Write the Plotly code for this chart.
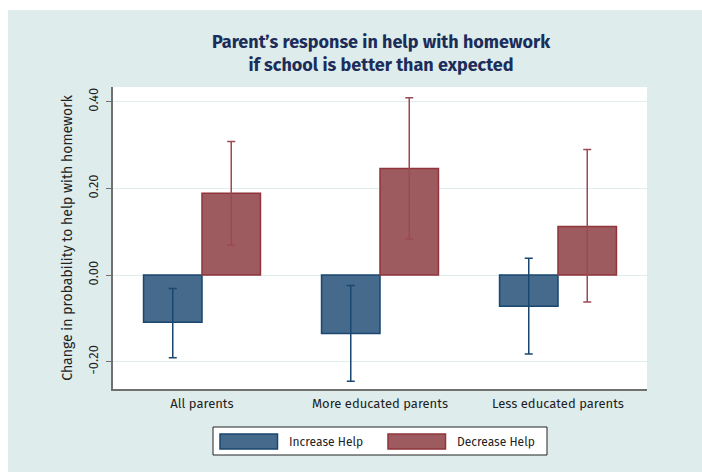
import plotly.graph_objects as go

categories = ["All parents", "More educated parents", "Less educated parents"]
increase = [-0.109, -0.135, -0.072]
increase_hi = [-0.031, -0.024, 0.039]
increase_lo = [-0.191, -0.245, -0.182]
decrease = [0.189, 0.246, 0.112]
decrease_hi = [0.308, 0.409, 0.290]
decrease_lo = [0.069, 0.083, -0.062]
series_names = ["Increase Help", "Decrease Help"]
yticks = [-0.2, 0.0, 0.2, 0.4]
yticklabels = ["-0.20", "0.00", "0.20", "0.40"]

BLUE_FILL = "#456a8b"
BLUE_LINE = "#1a476f"
RED_FILL = "#9d5b60"
RED_LINE = "#90353b"
TEAL = "#deecec"
FONT = "Fira Sans, Open Sans, sans-serif"
TITLE_FONT = "Fira Sans, Fira Sans Condensed, sans-serif"

fig = go.Figure()
fig.add_trace(go.Bar(
    x=categories, y=increase, name=series_names[0],
    marker=dict(color=BLUE_FILL, line=dict(color=BLUE_LINE, width=1.5)),
    error_y=dict(type="data", symmetric=False,
                 array=[h - v for h, v in zip(increase_hi, increase)],
                 arrayminus=[v - l for v, l in zip(increase, increase_lo)],
                 color=BLUE_LINE, thickness=1.5, width=4),
))
fig.add_trace(go.Bar(
    x=categories, y=decrease, name=series_names[1],
    marker=dict(color=RED_FILL, line=dict(color=RED_LINE, width=1.5)),
    error_y=dict(type="data", symmetric=False,
                 array=[h - v for h, v in zip(decrease_hi, decrease)],
                 arrayminus=[v - l for v, l in zip(decrease, decrease_lo)],
                 color="#9a4a55", thickness=1.5, width=4),
))

L, R, T, B = 113, 55, 87, 83
W, H = 702, 472
pw, ph = W - L - R, H - T - B

def px_x(x):
    return (x - L) / pw

def px_y(y):
    return (H - B - y) / ph

shapes = [
    dict(type="rect", xref="paper", yref="paper", layer="below",
         x0=px_x(8), x1=px_x(W + 5), y0=px_y(H + 5), y1=px_y(10),
         fillcolor=TEAL, line=dict(width=0)),
    dict(type="rect", xref="paper", yref="paper", layer="below",
         x0=0, x1=1, y0=0, y1=1, fillcolor="white", line=dict(width=0)),
    # legend box
    dict(type="rect", xref="paper", yref="paper", layer="above",
         x0=px_x(213), x1=px_x(547), y0=px_y(455), y1=px_y(427),
         fillcolor="white", line=dict(color="#222222", width=1)),
    dict(type="rect", xref="paper", yref="paper", layer="above",
         x0=px_x(220), x1=px_x(277.5), y0=px_y(449), y1=px_y(434),
         fillcolor=BLUE_FILL, line=dict(color=BLUE_LINE, width=1.5)),
    dict(type="rect", xref="paper", yref="paper", layer="above",
         x0=px_x(388), x1=px_x(445.5), y0=px_y(449), y1=px_y(434),
         fillcolor=RED_FILL, line=dict(color=RED_LINE, width=1.5)),
]

annotations = [
    dict(xref="paper", yref="paper", x=px_x(287), y=px_y(442), xanchor="left",
         yanchor="middle", text=series_names[0], showarrow=False,
         font=dict(family=FONT, size=12, color="#222222")),
    dict(xref="paper", yref="paper", x=px_x(455), y=px_y(442), xanchor="left",
         yanchor="middle", text=series_names[1], showarrow=False,
         font=dict(family=FONT, size=12, color="#222222")),
]

fig.update_layout(
    width=W, height=H,
    margin=dict(l=L, r=R, t=T, b=B),
    paper_bgcolor="white", plot_bgcolor="white",
    barmode="group", bargap=0.343, bargroupgap=0,
    showlegend=False,
    shapes=shapes, annotations=annotations,
    title=dict(
        text="<b>Parent’s response in help with homework<br>if school is better than expected</b>",
        xref="container", x=381 / W, xanchor="center",
        yref="container", y=1 - 48 / H, yanchor="middle",
        font=dict(family=TITLE_FONT, size=18, color="#1c2d5a"),
    ),
    xaxis=dict(
        showgrid=False, showline=True, linecolor="#707070", linewidth=2,
        ticks="", tickfont=dict(family=FONT, size=13, color="#222222"),
        ticklabelstandoff=1,
    ),
    yaxis=dict(
        range=[-0.263, 0.434], tickvals=yticks, ticktext=yticklabels,
        tickangle=-90, ticks="outside", ticklen=5, tickcolor="#707070",
        showline=True, linecolor="#707070", linewidth=1.5,
        showgrid=True, gridcolor="#e0eded", gridwidth=1.2,
        zeroline=False, ticklabelstandoff=3,
        tickfont=dict(family=FONT, size=13, color="#222222"),
        title=dict(text="Change in probability to help with homework",
                   font=dict(family=FONT, size=14, color="#222222"), standoff=10),
    ),
)

fig.write_html("out.html")
